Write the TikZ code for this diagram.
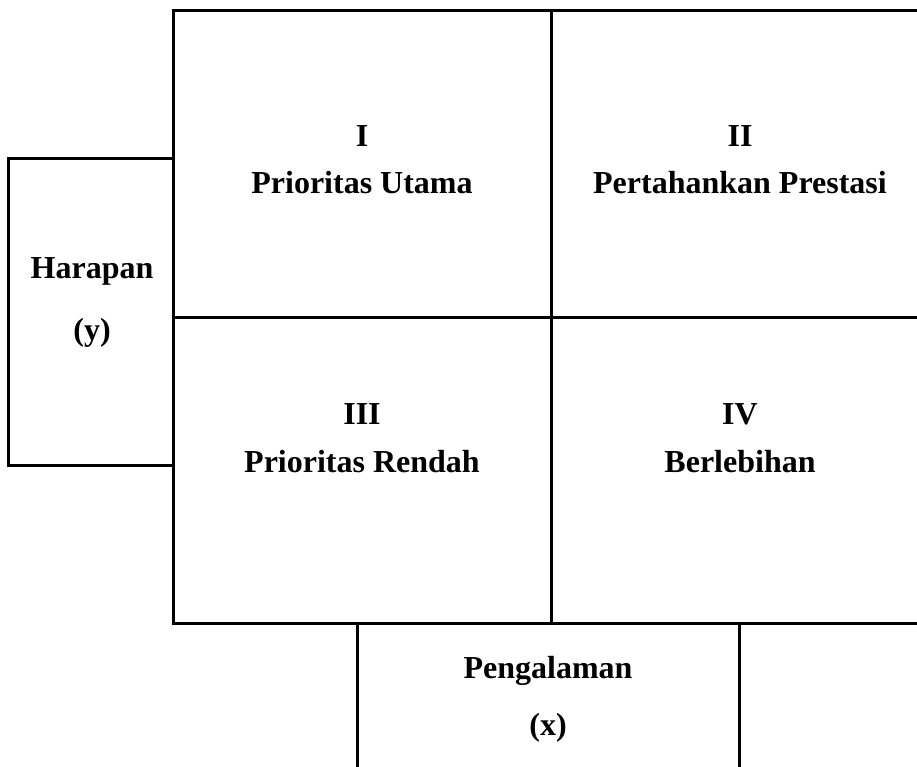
\documentclass[tikz,border=0pt]{standalone}
\usepackage{fontspec}
\setmainfont{Liberation Serif}
\begin{document}
\begin{tikzpicture}[x=1pt,y=-1pt,
  frame/.style={line width=3pt,line cap=rect,black},
  lbl/.style={font=\fontsize{32}{38}\selectfont\bfseries,anchor=base,inner sep=0pt}]
\useasboundingbox (0,0) rectangle (917,767);
% grid
\coordinate (tl) at (173.5,11);
\coordinate (tr) at (917,11);
\coordinate (bl) at (173.5,623);
\coordinate (br) at (917,623);
\coordinate (mt) at (551,11);
\coordinate (mb) at (551,623);
\coordinate (ml) at (173.5,317);
\coordinate (mr) at (917,317);
\draw[frame] (tr) -- (tl) -- (bl) -- (br);
\draw[frame] (mt) -- (mb);
\draw[frame] (ml) -- (mr);
% left box
\coordinate (ya) at (173.5,159);
\coordinate (yb) at (8.5,159);
\coordinate (yc) at (8.5,465);
\coordinate (yd) at (173.5,465);
\draw[frame] (ya) -- (yb) -- (yc) -- (yd);
% bottom box
\coordinate (xa) at (357.5,623);
\coordinate (xb) at (357.5,770);
\coordinate (xc) at (739,623);
\coordinate (xd) at (739,770);
\draw[frame,line cap=butt] (xa) -- (xb);
\draw[frame,line cap=butt] (xc) -- (xd);
% labels
\node[lbl] (q1n) at (362,147) {I};
\node[lbl] (q1t) at (362,194) {Prioritas Utama};
\node[lbl] (q2n) at (740,147) {II};
\node[lbl] (q2t) at (740,194) {Pertahankan Prestasi};
\node[lbl] (q3n) at (362,424) {III};
\node[lbl] (q3t) at (362,472) {Prioritas Rendah};
\node[lbl] (q4n) at (740,424) {IV};
\node[lbl] (q4t) at (740,472) {Berlebihan};
\node[lbl] (yl1) at (92,278) {Harapan};
\node[lbl] (yl2) at (92,340) {(y)};
\node[lbl] (xl1) at (548,678) {Pengalaman};
\node[lbl] (xl2) at (548,735) {(x)};
\end{tikzpicture}
\end{document}
